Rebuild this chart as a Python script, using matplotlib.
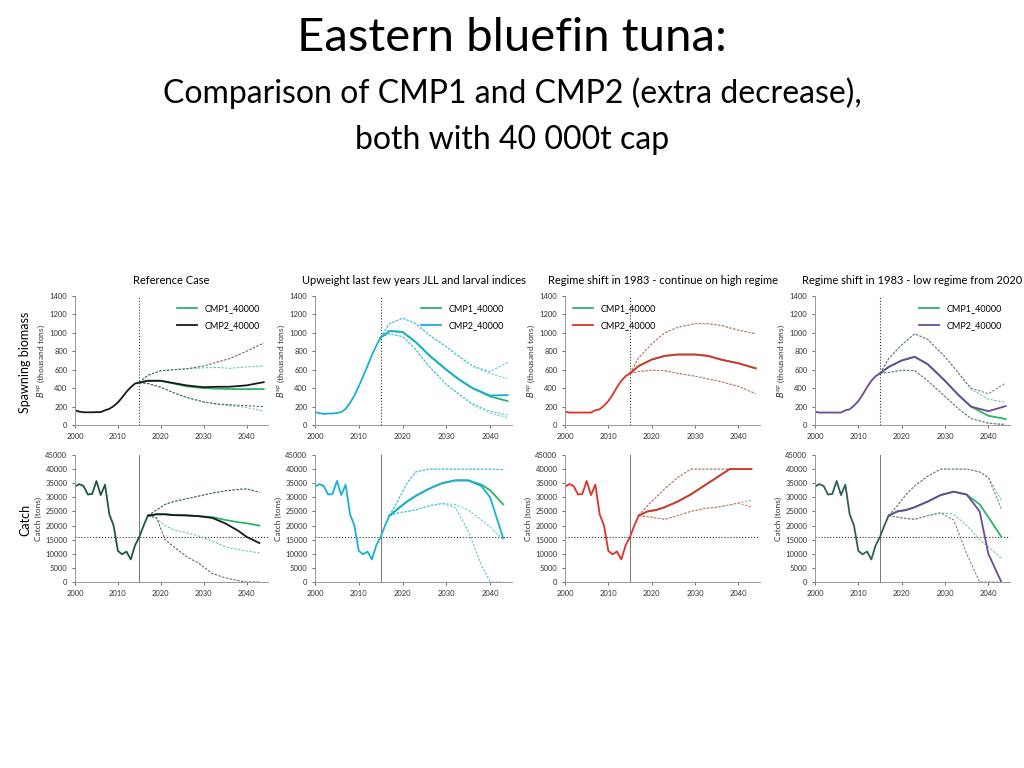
import matplotlib.pyplot as plt

# ---- data ----
hist_b_years = list(range(2000, 2016))
hist_c_years = list(range(2000, 2018))
proj_b_years = [2015, 2017, 2020, 2023, 2026, 2030, 2033, 2036, 2040, 2044]
proj_c_years = [2017, 2019, 2021, 2023, 2026, 2029, 2032, 2035, 2038, 2040, 2043]

titles = ['Reference Case', 'Upweight last few years JLL and larval indices',
          'Regime shift in 1983 - continue on high regime', 'Regime shift in 1983 - low regime from 2020']

hist_catch = [33800, 34700, 34000, 31000, 31200, 35800, 30800, 34500, 24000, 20000,
              11000, 9800, 10800, 8000, 13000, 16000, 20000, 23500]

hist_bio = [
    [160, 145, 138, 138, 138, 140, 140, 160, 175, 205, 245, 300, 360, 410, 450, 460],
    [140, 130, 120, 125, 125, 130, 140, 175, 240, 320, 420, 530, 640, 760, 860, 950],
    [145, 135, 135, 135, 135, 135, 135, 160, 170, 210, 260, 330, 410, 480, 530, 560],
    [145, 135, 135, 135, 135, 135, 135, 160, 170, 210, 260, 330, 410, 480, 530, 560],
]

# biomass: (median, upper, lower) for CMP1 and CMP2
bio_cmp1_med = [
    [460, 480, 480, 450, 420, 400, 395, 390, 390, 390],
    [950, 1020, 1010, 900, 760, 600, 490, 400, 310, 260],
    [560, 640, 710, 750, 765, 765, 750, 710, 670, 615],
    [560, 630, 700, 740, 660, 480, 330, 200, 100, 65],
]
bio_cmp2_med = [
    [460, 480, 480, 455, 430, 410, 415, 415, 430, 465],
    [950, 1020, 1010, 900, 760, 600, 490, 400, 320, 325],
    [560, 640, 710, 750, 765, 765, 750, 710, 670, 615],
    [560, 630, 700, 740, 660, 480, 330, 200, 150, 205],
]
bio_cmp1_hi = [
    [460, 540, 590, 600, 610, 620, 625, 615, 630, 640],
    [950, 1100, 1160, 1100, 980, 850, 740, 640, 560, 500],
    [560, 730, 880, 1000, 1060, 1100, 1100, 1080, 1030, 990],
    [560, 720, 870, 990, 930, 740, 570, 390, 280, 245],
]
bio_cmp2_hi = [
    [460, 540, 590, 600, 610, 640, 680, 720, 800, 890],
    [950, 1100, 1160, 1100, 980, 850, 740, 640, 580, 680],
    [560, 730, 880, 1000, 1060, 1100, 1100, 1080, 1030, 990],
    [560, 720, 870, 990, 930, 740, 570, 400, 340, 455],
]
bio_cmp1_lo = [
    [460, 450, 410, 350, 300, 250, 225, 210, 190, 150],
    [950, 990, 960, 820, 640, 440, 330, 220, 130, 80],
    [560, 580, 595, 590, 560, 530, 500, 470, 420, 340],
    [560, 570, 595, 590, 480, 310, 180, 70, 20, 10],
]
bio_cmp2_lo = [
    [460, 450, 410, 350, 300, 250, 230, 220, 210, 200],
    [950, 990, 960, 820, 640, 440, 330, 230, 150, 110],
    [560, 580, 595, 590, 560, 530, 500, 470, 420, 340],
    [560, 570, 595, 590, 480, 310, 180, 70, 20, 0],
]

catch_cmp1_med = [
    [23500, 24000, 24000, 23700, 23600, 23300, 23000, 22000, 21200, 20800, 20000],
    [23500, 26000, 28500, 30500, 33000, 35000, 36000, 36000, 34500, 32500, 27500],
    [23500, 25000, 25500, 26500, 28500, 31000, 34000, 37000, 40000, 40000, 40000],
    [23500, 25000, 25500, 26500, 28500, 30800, 32000, 31000, 27500, 23000, 16000],
]
catch_cmp2_med = [
    [23500, 24000, 24000, 23700, 23600, 23300, 22700, 20800, 18200, 16000, 13800],
    [23500, 26000, 28500, 30500, 33000, 35000, 36000, 36000, 34000, 30000, 15500],
    [23500, 25000, 25500, 26500, 28500, 31000, 34000, 37000, 40000, 40000, 40000],
    [23500, 25000, 25500, 26500, 28500, 30800, 32000, 31000, 25000, 10000, 0],
]
catch_cmp1_hi = [
    [23500, 25500, 27500, 28500, 29500, 30500, 31500, 32300, 32800, 33000, 31800],
    [23500, 29000, 35000, 39000, 40000, 40000, 40000, 40000, 40000, 40000, 39800],
    [23500, 27000, 30000, 33000, 37000, 40000, 40000, 40000, 40000, 40000, 40000],
    [23500, 27000, 31000, 34000, 37500, 40000, 40000, 40000, 39000, 37000, 29000],
]
catch_cmp2_hi = [
    [23500, 25500, 27500, 28500, 29500, 30500, 31500, 32300, 32800, 33000, 31800],
    [23500, 29000, 35000, 39000, 40000, 40000, 40000, 40000, 40000, 40000, 39800],
    [23500, 27000, 30000, 33000, 37000, 40000, 40000, 40000, 40000, 40000, 40000],
    [23500, 27000, 31000, 34000, 37500, 40000, 40000, 40000, 39000, 37000, 26000],
]
catch_cmp1_lo = [
    [23500, 22500, 20000, 18500, 17500, 16200, 14500, 12500, 11500, 11000, 10300],
    [23500, 24500, 25000, 25500, 27000, 27800, 27500, 25500, 22000, 19500, 15000],
    [23500, 23200, 22700, 22200, 23500, 25000, 26000, 26500, 27300, 28000, 29000],
    [23500, 23000, 22500, 22200, 23500, 24500, 24000, 20000, 15000, 12500, 8500],
]
catch_cmp2_lo = [
    [23500, 22800, 15000, 12500, 9000, 6500, 3000, 1500, 500, 0, 0],
    [23500, 24500, 25000, 25500, 27000, 27800, 26500, 18000, 6000, 0, 0],
    [23500, 23200, 22700, 22200, 23500, 25000, 26000, 26500, 27300, 28000, 26500],
    [23500, 23000, 22500, 22200, 23500, 24500, 22000, 10000, 0, 0, 0],
]

green = '#2eb46a'
cmp2_colors = ['#1a1a1a', '#1ab0d0', '#e0302a', '#6a4a9c']
dash1_colors = ['#5cc98a', '#5cc9dd', '#5cc98a', '#5cc98a']
dash2_colors = ['#555555', '#48bfdc', '#e86a66', '#777777']
hist_catch_colors = ['#1e5a3a', '#1ab0d0', '#e0302a', '#2f5f5a']
legend_loc = ['upper right', 'upper right', 'upper left', 'upper right']
dash = (0, (2.5, 1.5))

fig = plt.figure(figsize=(10.24, 7.68), dpi=100)
plt.rcParams['font.family'] = 'Lato'

fig.text(0.5, 0.95, 'Eastern bluefin tuna:', ha='center', va='center', fontsize=34)
fig.text(0.5, 0.879, 'Comparison of CMP1 and CMP2 (extra decrease),', ha='center', va='center', fontsize=23)
fig.text(0.5, 0.818, 'both with 40 000t cap', ha='center', va='center', fontsize=23)

lefts = [75, 315, 565, 815]
widths = [193, 197, 195, 195]


def style(ax):
    for s in ['top', 'right']:
        ax.spines[s].set_visible(False)
    for s in ['left', 'bottom']:
        ax.spines[s].set_color('#999999')
        ax.spines[s].set_linewidth(0.7)
    ax.tick_params(labelsize=5.5, length=2, width=0.5, colors='#333333')
    ax.set_xlim(2000, 2045)
    ax.set_xticks([2000, 2010, 2020, 2030, 2040])


for i in range(4):
    # biomass
    ax = fig.add_axes([lefts[i] / 1024, 1 - 425 / 768, widths[i] / 1024, 129 / 768])
    style(ax)
    ax.set_ylim(0, 1400)
    ax.set_yticks(range(0, 1401, 200))
    ax.axvline(2015, color='#333333', ls=':', lw=0.8)
    ax.plot(proj_b_years, bio_cmp1_hi[i], color=dash1_colors[i], ls=dash, lw=0.7)
    ax.plot(proj_b_years, bio_cmp1_lo[i], color=dash1_colors[i], ls=dash, lw=0.7)
    ax.plot(proj_b_years, bio_cmp2_hi[i], color=dash2_colors[i], ls=dash, lw=0.7)
    ax.plot(proj_b_years, bio_cmp2_lo[i], color=dash2_colors[i], ls=dash, lw=0.7)
    ax.plot(hist_b_years, hist_bio[i], color=cmp2_colors[i], lw=1.3)
    ax.plot(proj_b_years, bio_cmp1_med[i], color=green, lw=1.3, label='CMP1_40000')
    ax.plot(proj_b_years, bio_cmp2_med[i], color=cmp2_colors[i], lw=1.3, label='CMP2_40000')
    ax.set_ylabel('$B^{sp}$ (thousand tons)', fontsize=6, color='#333333', labelpad=2)
    ax.set_title(titles[i], fontsize=8, pad=9)
    ax.legend(loc=legend_loc[i], fontsize=6.5, frameon=False, handlelength=2.2, labelspacing=0.9)

    # catch
    ax = fig.add_axes([lefts[i] / 1024, 1 - 582 / 768, widths[i] / 1024, 127 / 768])
    style(ax)
    ax.set_ylim(0, 45000)
    ax.set_yticks(range(0, 45001, 5000))
    ax.axvline(2015, color='#777777', lw=0.7)
    ax.axhline(16000, color='#333333', ls=':', lw=0.8)
    ax.plot(proj_c_years, catch_cmp1_hi[i], color=dash1_colors[i], ls=dash, lw=0.7)
    ax.plot(proj_c_years, catch_cmp1_lo[i], color=dash1_colors[i], ls=dash, lw=0.7)
    ax.plot(proj_c_years, catch_cmp2_hi[i], color=dash2_colors[i], ls=dash, lw=0.7)
    ax.plot(proj_c_years, catch_cmp2_lo[i], color=dash2_colors[i], ls=dash, lw=0.7)
    ax.plot(hist_c_years, hist_catch, color=hist_catch_colors[i], lw=1.3)
    ax.plot(proj_c_years, catch_cmp1_med[i], color=green, lw=1.3)
    ax.plot(proj_c_years, catch_cmp2_med[i], color=cmp2_colors[i], lw=1.3)
    ax.set_ylabel('Catch (tons)', fontsize=6, color='#333333', labelpad=2)

fig.text(25 / 1024, 1 - 362 / 768, 'Spawning biomass', rotation=90, ha='center', va='center', fontsize=9)
fig.text(25 / 1024, 1 - 520 / 768, 'Catch', rotation=90, ha='center', va='center', fontsize=9)

fig.savefig('out.png', dpi=100)
